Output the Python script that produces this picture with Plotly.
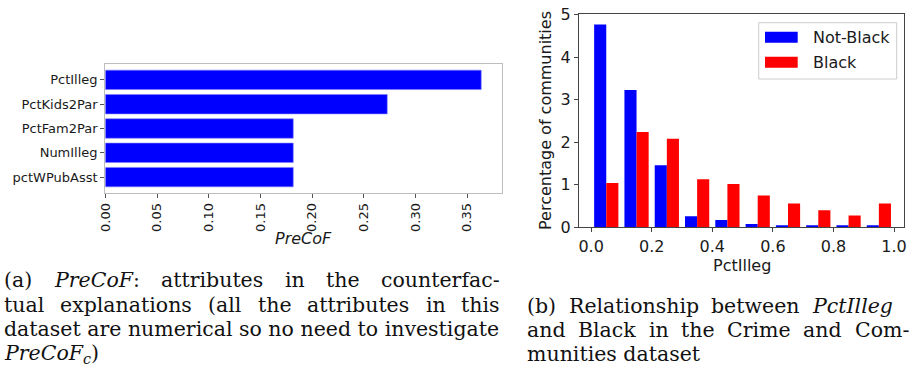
import os
import struct
import plotly.graph_objects as go

# ---------------- data ----------------
attributes = ["pctWPubAsst", "NumIlleg", "PctFam2Par", "PctKids2Par", "PctIlleg"]
precof = [0.1818, 0.1818, 0.1818, 0.2727, 0.3636]
precof_ticks = [0.00, 0.05, 0.10, 0.15, 0.20, 0.25, 0.30, 0.35]

bin_centers = [0.05, 0.15, 0.25, 0.35, 0.45, 0.55, 0.65, 0.75, 0.85, 0.95]
not_black = [4.77, 3.23, 1.46, 0.26, 0.17, 0.08, 0.03, 0.05, 0.03, 0.03]
black = [1.04, 2.24, 2.08, 1.13, 1.02, 0.75, 0.56, 0.40, 0.28, 0.56]
hist_xticks = [0.0, 0.2, 0.4, 0.6, 0.8, 1.0]
hist_yticks = [0, 1, 2, 3, 4, 5]

W, H = 912, 379
def px(x):
    return x / W
def py(y):
    return 1 - y / H

BLUE = "#0000ff"
RED = "#ff0000"
TXT = "#1a1a1a"
SANS = "DejaVu Sans"
SERIF = "DejaVu Serif"


# ---------- font metrics (for justified caption lines) ----------
def find_font(name):
    for root in ["/usr/share/fonts", "/usr/local/share/fonts", os.path.expanduser("~/.fonts")]:
        for dp, dn, fn in os.walk(root):
            if name in fn:
                return os.path.join(dp, name)
    return None

def load_widths(path):
    try:
        data = open(path, "rb").read()
        nt = struct.unpack(">H", data[4:6])[0]
        tables = {}
        for i in range(nt):
            tag, cs, off, ln = struct.unpack(">4sIII", data[12 + 16 * i: 28 + 16 * i])
            tables[tag.decode("latin1")] = off
        head = tables["head"]
        upem = struct.unpack(">H", data[head + 18: head + 20])[0]
        hhea = tables["hhea"]
        nhm = struct.unpack(">H", data[hhea + 34: hhea + 36])[0]
        hm = tables["hmtx"]
        adv = [struct.unpack(">H", data[hm + 4 * i: hm + 4 * i + 2])[0] for i in range(nhm)]
        cm = tables["cmap"]
        nsub = struct.unpack(">H", data[cm + 2: cm + 4])[0]
        sub = None
        for i in range(nsub):
            pid, eid, off = struct.unpack(">HHI", data[cm + 4 + 8 * i: cm + 12 + 8 * i])
            s = cm + off
            if struct.unpack(">H", data[s: s + 2])[0] == 4 and pid in (0, 3):
                sub = s
                break
        seg2 = struct.unpack(">H", data[sub + 6: sub + 8])[0]
        seg = seg2 // 2
        ends = struct.unpack(">%dH" % seg, data[sub + 14: sub + 14 + seg2])
        starts = struct.unpack(">%dH" % seg, data[sub + 16 + seg2: sub + 16 + 2 * seg2])
        deltas = struct.unpack(">%dh" % seg, data[sub + 16 + 2 * seg2: sub + 16 + 3 * seg2])
        rpos = sub + 16 + 3 * seg2
        roffs = struct.unpack(">%dH" % seg, data[rpos: rpos + seg2])

        def gid(ch):
            c = ord(ch)
            for k in range(seg):
                if ends[k] >= c:
                    if starts[k] > c:
                        return 0
                    if roffs[k] == 0:
                        return (c + deltas[k]) & 0xFFFF
                    a = rpos + 2 * k + roffs[k] + 2 * (c - starts[k])
                    g = struct.unpack(">H", data[a: a + 2])[0]
                    return (g + deltas[k]) & 0xFFFF if g else 0
            return 0

        def width(s, size):
            return sum(adv[min(gid(ch), nhm - 1)] for ch in s) * size / upem
        return width
    except Exception:
        return None

def fallback_width(s, size):
    return 0.56 * size * len(s)

p = find_font("DejaVuSerif.ttf")
w_reg = (load_widths(p) if p else None) or fallback_width
p = find_font("DejaVuSerif-Italic.ttf")
w_it = (load_widths(p) if p else None) or w_reg

# caption font size chosen so the natural line matches the reference width
natural = "dataset are numerical so no need to investigate"
CS = round(496.0 / w_reg(natural, 1.0), 1)
CS = max(17.0, min(CS, 22.0))
CC = "#111"

fig = go.Figure()

fig.add_trace(go.Bar(
    x=precof, y=attributes, orientation="h", width=0.8,
    marker=dict(color=BLUE, line=dict(color="#7f7fff", width=0.6)),
    xaxis="x", yaxis="y", showlegend=False, name="PreCoF"))

fig.add_trace(go.Bar(
    x=bin_centers, y=not_black, name="Not-Black",
    marker=dict(color=BLUE, line=dict(width=0)),
    xaxis="x2", yaxis="y2", showlegend=False))
fig.add_trace(go.Bar(
    x=bin_centers, y=black, name="Black",
    marker=dict(color=RED, line=dict(width=0)),
    xaxis="x2", yaxis="y2", showlegend=False))

common = dict(showgrid=False, zeroline=False, showline=True, mirror=True,
              linewidth=1.2, ticks="outside", ticklen=4, automargin=False)

fig.update_layout(
    width=W, height=H,
    margin=dict(l=0, r=0, t=0, b=0, autoexpand=False),
    paper_bgcolor="white", plot_bgcolor="white",
    barmode="group", bargap=0.2, bargroupgap=0,
    font=dict(family=SANS, color=TXT),
    xaxis=dict(domain=[px(105.3), px(501.7)], anchor="y",
               range=[0, 0.3834], tickvals=precof_ticks,
               tickformat=".2f", tickangle=-90,
               linecolor="#bdbdbd", tickcolor="#555",
               tickfont=dict(size=13, family=SANS, color=TXT), **common),
    yaxis=dict(domain=[py(192.7), py(64.3)], anchor="x",
               type="category", categoryorder="array", categoryarray=attributes,
               range=[-0.64, 4.64],
               linecolor="#bdbdbd", tickcolor="#555",
               tickfont=dict(size=13, family=SANS, color=TXT), **common),
    xaxis2=dict(domain=[px(579), px(904.3)], anchor="y2",
                range=[-0.04, 1.034], tickvals=hist_xticks, tickformat=".1f",
                linecolor="#444", tickcolor="#444",
                tickfont=dict(size=16, family=SANS, color=TXT), **common),
    yaxis2=dict(domain=[py(227.3), py(14.3)], anchor="x2",
                range=[0, 5.01], tickvals=hist_yticks,
                linecolor="#444", tickcolor="#444",
                tickfont=dict(size=16, family=SANS, color=TXT), **common),
)

ann = []
def text_at(t, x, y, size, family=SANS, xanchor="center", angle=0, color=TXT):
    ann.append(dict(text=t, x=px(x), y=py(y), xref="paper", yref="paper",
                    xanchor=xanchor, yanchor="middle", showarrow=False, textangle=angle,
                    font=dict(size=size, family=family, color=color)))

# axis titles
text_at("<i>PreCoF</i>", 303.5, 238, 16)
text_at("PctIlleg", 741.5, 265, 16)
text_at("Percentage of communities", 546, 121, 16, angle=-90)

# legend (drawn)
shapes = [
    dict(type="rect", xref="paper", yref="paper", x0=px(758.7), x1=px(896.7),
         y0=py(79), y1=py(22.7), line=dict(color="#cccccc", width=1), fillcolor="white"),
    dict(type="rect", xref="paper", yref="paper", x0=px(765), x1=px(797.7),
         y0=py(42.7), y1=py(31.7), line=dict(width=0), fillcolor=BLUE),
    dict(type="rect", xref="paper", yref="paper", x0=px(765), x1=px(797.7),
         y0=py(67.7), y1=py(56.7), line=dict(width=0), fillcolor=RED),
]
text_at("Not-Black", 811, 37.5, 16, xanchor="left")
text_at("Black", 811, 62.5, 16, xanchor="left")

# captions: justified lines, words spaced evenly
def seg_width(segs):
    return sum((w_it if it else w_reg)(t, CS) for t, it in segs)

def seg_label(segs):
    return "".join(("<i>%s</i>" % t) if it else t for t, it in segs)

def justified(words, x0, yc, x1=None, last_start=None):
    # words: list of words, each a list of (text, italic) segments
    widths = [seg_width(w) for w in words]
    n = len(words)
    if last_start is not None:
        gap = (last_start - x0 - sum(widths[:-1])) / (n - 1)
    else:
        gap = (x1 - x0 - sum(widths)) / (n - 1)
    x = x0
    for w, wd in zip(words, widths):
        text_at(seg_label(w), x, yc, CS, family=SERIF, xanchor="left", color=CC)
        x += wd + gap

def plain(*ws):
    return [[(w, 0)] for w in ws]

L0, L1 = 2, 498
justified(plain("(a)") + [[("PreCoF", 1), (":", 0)]] +
          plain("attributes", "in", "the", "counterfac-"), L0, 280, x1=L1)
justified(plain("tual", "explanations", "(all", "the", "attributes", "in", "this"),
          L0, 305, x1=L1)
text_at(natural, L0, 329, CS, family=SERIF, xanchor="left", color=CC)
text_at("<i>PreCoF<sub>c</sub></i>)", L0, 353.5, CS, family=SERIF, xanchor="left", color=CC)

R0 = 525
justified(plain("(b)", "Relationship", "between") + [[("PctIlleg", 1)]], R0, 306, last_start=810)
justified(plain("and", "Black", "in", "the", "Crime", "and", "Com-"), R0, 330, x1=907)
text_at("munities dataset", R0, 354, CS, family=SERIF, xanchor="left", color=CC)

fig.update_layout(annotations=ann, shapes=shapes)
fig.write_html("out.html", config={"displayModeBar": False},
               post_script="document.body.style.margin='0';document.body.style.padding='0';document.body.style.overflow='hidden';")
